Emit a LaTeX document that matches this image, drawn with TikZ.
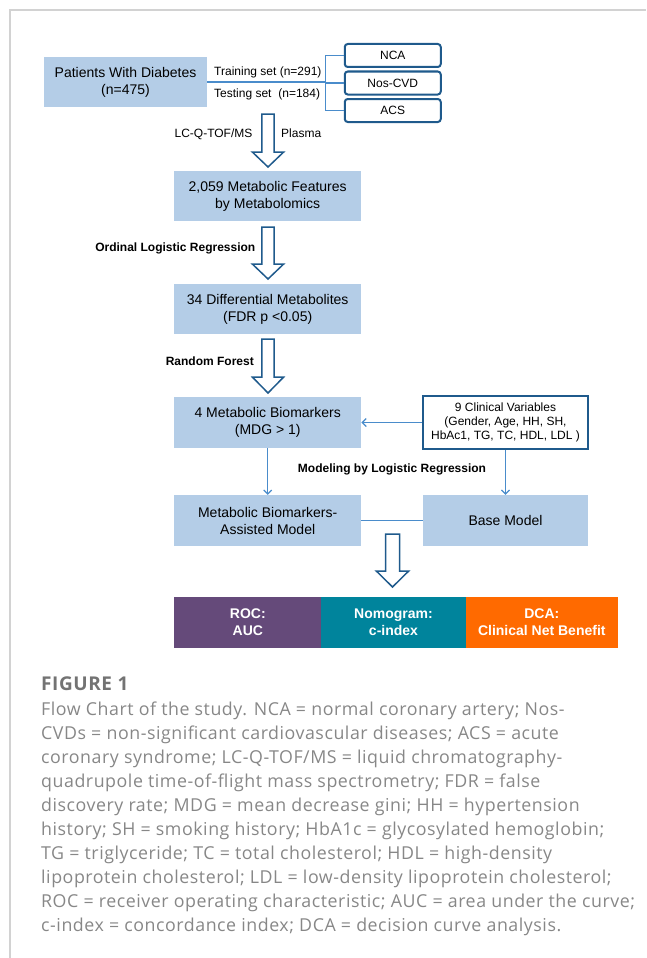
\documentclass[tikz,border=0pt]{standalone}
\usepackage{fontspec}
\setmainfont{Liberation Sans}
\newfontfamily\capfont[LetterSpace=3]{Open Sans}
\usetikzlibrary{arrows.meta,calc}
\definecolor{boxblue}{HTML}{B4CDE7}
\definecolor{darkblue}{HTML}{1F5A8C}
\definecolor{lineblue}{HTML}{4A8CCB}
\definecolor{framegray}{HTML}{D2D2D2}
\definecolor{capgray}{HTML}{878787}
\definecolor{rocpurple}{HTML}{654A7A}
\definecolor{nomoteal}{HTML}{00849C}
\definecolor{dcaorange}{HTML}{FF6A00}
\tikzset{
  bluebox/.style={fill=boxblue, draw=none, align=center, inner sep=0pt,
    font=\fontsize{14}{17}\selectfont},
  groupbox/.style={draw=darkblue, line width=2pt, rounded corners=3pt, fill=white,
    minimum width=96pt, minimum height=23pt, inner sep=0pt,
    font=\fontsize{12}{14}\selectfont},
  clinbox/.style={draw=darkblue, line width=1.8pt, fill=white, align=center, inner sep=0pt,
    font=\fontsize{12}{14}\selectfont},
  barbox/.style={draw=none, text=white, align=center, inner sep=0pt,
    font=\fontsize{14}{17}\selectfont\bfseries, minimum height=51pt},
  thinline/.style={draw=lineblue, line width=1.2pt},
  thinarrow/.style={draw=lineblue, line width=1.2pt, -{Straight Barb[length=4pt,width=8pt]}},
  hollow/.style={draw=darkblue, line width=1.5pt, fill=white, line join=miter},
  smalllabel/.style={inner sep=0pt, font=\fontsize{12}{14}\selectfont},
  boldlabel/.style={inner sep=0pt, font=\fontsize{12}{14}\selectfont\bfseries},
  capline/.style={inner sep=0pt, anchor=base west, text=capgray, font=\capfont\fontsize{17.8}{24}\selectfont}
}
% hollow arrow: centre x, top y, head start y, tip y, shaft half width, head half width
\newcommand\hollowarrow[6]{%
  \draw[hollow] (#1-#5,#2) -- (#1+#5,#2) -- (#1+#5,#3) -- (#1+#6,#3) -- (#1,#4)
    -- (#1-#6,#3) -- (#1-#5,#3) -- cycle;}
\begin{document}
\begin{tikzpicture}[x=1pt,y=-1pt]
\useasboundingbox (0,0) rectangle (646,958);
% frame
\draw[framegray, line width=1.5pt] (10,958) -- (10,10) -- (646,10);

% top part
\node[bluebox, minimum width=163pt, minimum height=50pt] (pat) at (125.5,82) {Patients With Diabetes\\(n=475)};
\node[groupbox] (nca) at (392.75,55.5) {NCA};
\node[groupbox] (nos) at (392.75,83) {Nos-CVD};
\node[groupbox] (acs) at (392.75,110.5) {ACS};
\coordinate (split) at (325.5,82);
\draw[thinline] (pat.east) -- (split);
\draw[thinline] (nca.west) -| (split);
\draw[thinline] (acs.west) -| (split);
\draw[thinline] (nos.west) -- (nos.west -| split);
\node[smalllabel, anchor=base west] (train) at (214,75.5) {Training set (n=291)};
\node[smalllabel, anchor=base west] (test) at (214,97.5) {Testing set\hspace{3.5pt} (n=184)};

% vertical chain
\node[bluebox, minimum width=187pt, minimum height=50pt] (feat) at (267.7,196) {2,059 Metabolic Features\\by Metabolomics};
\node[bluebox, minimum width=187pt, minimum height=50pt] (diff) at (267.7,309) {34 Differential Metabolites\\(FDR p <0.05)};
\node[bluebox, minimum width=187pt, minimum height=51pt] (bio) at (267.7,422.5) {4 Metabolic Biomarkers\\(MDG > 1)};
\node[bluebox, minimum width=187pt, minimum height=51pt] (assist) at (267.7,520.5) {Metabolic Biomarkers-\\Assisted Model};
\node[clinbox, minimum width=165pt, minimum height=53pt] (clin) at (505.5,422.5) {9 Clinical Variables\\(Gender, Age, HH, SH,\\HbAc1, TG, TC, HDL, LDL )};
\node[bluebox, minimum width=165pt, minimum height=51pt] (base) at (505.5,520.5) {Base Model};

\hollowarrow{268}{114}{152}{167}{6.2}{15.7}
\hollowarrow{268}{227}{264}{279}{6.2}{15.7}
\hollowarrow{268}{339}{377}{393}{6.2}{15.7}
\node[smalllabel, anchor=base east] (lcq) at (252.6,137) {LC-Q-TOF/MS};
\node[smalllabel, anchor=base west] (plasma) at (281,137) {Plasma};
\node[boldlabel, anchor=base east] (olr) at (255.5,251) {Ordinal Logistic Regression};
\node[boldlabel, anchor=base east] (rf) at (254,365) {Random Forest};

\draw[thinarrow] (clin.west) -- (bio.east);
\draw[thinarrow] (bio.south) -- (assist.north);
\draw[thinarrow] (clin.south) -- (base.north);
\draw[thinline] (assist.east) -- (base.west);
\node[boldlabel] (model) at (392,469) {Modeling by Logistic Regression};

\hollowarrow{392.5}{534}{571}{587}{7}{16.2}

% result bars
\node[barbox, fill=rocpurple, minimum width=147.1pt] (roc) at (247.85,622.5) {ROC:\\AUC};
\node[barbox, fill=nomoteal, minimum width=144.2pt] (nomo) at (393.5,622.5) {Nomogram:\\c-index};
\node[barbox, fill=dcaorange, minimum width=152.4pt] (dca) at (541.8,622.5) {DCA:\\Clinical Net Benefit};

% caption
\node[inner sep=0pt, anchor=base west, text=capgray!85!black, font=\capfont\fontsize{19}{24}\selectfont\bfseries] (fig) at (41,690) {FIGURE 1};
\node[capline] (c1) at (41,715) {Flow Chart of the study. NCA = normal coronary artery; Nos-};
\node[capline] (c2) at (41,739) {CVDs = non-significant cardiovascular diseases; ACS = acute};
\node[capline] (c3) at (41,763) {coronary syndrome; LC-Q-TOF/MS = liquid chromatography-};
\node[capline] (c4) at (41,787) {quadrupole time-of-flight mass spectrometry; FDR = false};
\node[capline] (c5) at (41,811) {discovery rate; MDG = mean decrease gini; HH = hypertension};
\node[capline] (c6) at (41,835) {history; SH = smoking history; HbA1c = glycosylated hemoglobin;};
\node[capline] (c7) at (41,859) {TG = triglyceride; TC = total cholesterol; HDL = high-density};
\node[capline] (c8) at (41,883) {lipoprotein cholesterol; LDL = low-density lipoprotein cholesterol;};
\node[capline] (c9) at (41,907) {ROC = receiver operating characteristic; AUC = area under the curve;};
\node[capline] (c10) at (41,931) {c-index = concordance index; DCA = decision curve analysis.};
\end{tikzpicture}
\end{document}
